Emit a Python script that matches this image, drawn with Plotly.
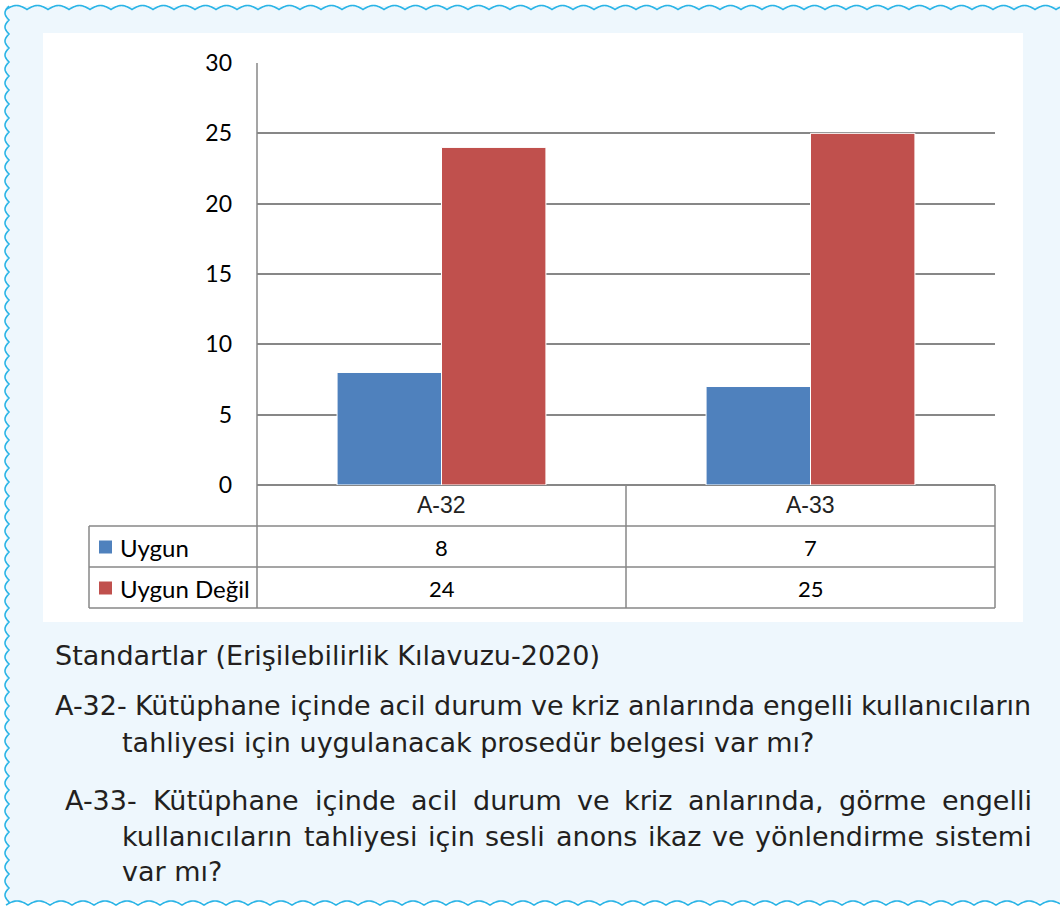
import numpy as np
import plotly.graph_objects as go

# ---- data ----
categories = ["A-32", "A-33"]
series_names = ["Uygun", "Uygun Değil"]
uygun = [8, 7]
uygun_degil = [24, 25]
series_values = [uygun, uygun_degil]
series_colors = ["#4f81bd", "#c0504d"]
y_ticks = [0, 5, 10, 15, 20, 25, 30]

title_line = "Standartlar (Erişilebilirlik Kılavuzu-2020)"
# (text, left x, right x or None for ragged, y)
notes = [
    ("A-32- Kütüphane içinde acil durum ve kriz anlarında engelli kullanıcıların", 53, 1030, 705),
    ("tahliyesi için uygulanacak prosedür belgesi var mı?", 120, None, 742),
    ("A-33- Kütüphane içinde acil durum ve kriz anlarında, görme engelli", 63, 1030, 800),
    ("kullanıcıların tahliyesi için sesli anons ikaz ve yönlendirme sistemi", 120, 1030, 836),
    ("var mı?", 120, None, 871),
]

W, H = 1060, 907
def px(x): return x / W
def py(y): return 1 - y / H

GRID = "#878787"
TXT_FONT = "DejaVu Sans"
TXT_SIZE = 27
TXT_COL = "#231f20"
NUM_FONT = "Lato"

# approximate DejaVu Sans advance widths (em) for justified layout of the caption text
ADV = {' ': .318, 'A': .684, '-': .361, '0': .636, '2': .636, '3': .636, 'K': .656, 'ü': .634, 'u': .634,
       't': .392, 'p': .635, 'h': .634, 'a': .613, 'n': .634, 'e': .615, 'i': .278, 'ı': .278, 'ç': .55,
       'c': .55, 'd': .635, 'l': .278, 'r': .411, 'm': .974, 'v': .592, 'y': .592, 'k': .579, 'z': .525,
       ',': .318, 'g': .635, 'ö': .612, 'o': .612, 's': .521, 'ş': .521, 'b': .635, '?': .531}
def text_w(s):
    return sum(ADV.get(ch, .6) for ch in s) * TXT_SIZE

fig = go.Figure()
for name, vals, col in zip(series_names, series_values, series_colors):
    fig.add_trace(go.Bar(
        x=categories, y=vals, name=name,
        marker=dict(color=col, line=dict(color="white", width=1)),
        showlegend=False,
    ))

shapes = []
shapes.append(dict(type="rect", xref="paper", yref="paper", x0=px(6), x1=px(1060), y0=py(902), y1=py(6),
                   fillcolor="#eef7fd", line=dict(width=0), layer="below"))
shapes.append(dict(type="rect", xref="paper", yref="paper", x0=px(43), x1=px(1023), y0=py(622), y1=py(33),
                   fillcolor="white", line=dict(width=0), layer="below"))

def wave_h(y0, x_start, x_end, period, amp):
    xs = np.arange(x_start, x_end + 1, 1.0)
    ys = y0 - amp * np.abs(np.sin(np.pi * (xs - x_start) / period)) + amp / 2
    return "M " + " L ".join(f"{px(a):.5f},{py(b):.5f}" for a, b in zip(xs, ys))

def wave_v(x0, y_start, y_end, period, amp):
    ys = np.arange(y_start, y_end + 1, 1.0)
    xs = x0 - amp * np.abs(np.sin(np.pi * (ys - y_start) / period)) + amp / 2
    return "M " + " L ".join(f"{px(a):.5f},{py(b):.5f}" for a, b in zip(xs, ys))

WAVE = "#2ab4e6"
for path in [wave_h(7.5, 6, 1060, 21, 4), wave_h(903, 6, 1060, 22, 4), wave_v(7, 6, 903, 14, 4)]:
    shapes.append(dict(type="path", xref="paper", yref="paper", path=path,
                       line=dict(color=WAVE, width=1.6)))

def hline(y, x0, x1):
    shapes.append(dict(type="line", xref="paper", yref="paper", x0=px(x0), x1=px(x1), y0=py(y), y1=py(y),
                       line=dict(color=GRID, width=1.5)))
def vline(x, y0, y1):
    shapes.append(dict(type="line", xref="paper", yref="paper", x0=px(x), x1=px(x), y0=py(y0), y1=py(y1),
                       line=dict(color=GRID, width=1.5)))
hline(526, 89, 995)
hline(567, 89, 995)
hline(608, 89, 995)
vline(89, 526, 608)
vline(257, 63, 608)
vline(626, 485, 608)
vline(995, 485, 608)

annotations = []
row_y = [547, 588]
for name, vals, col, ry in zip(series_names, series_values, series_colors, row_y):
    shapes.append(dict(type="rect", xref="paper", yref="paper", x0=px(99), x1=px(112),
                       y0=py(ry + 6.5), y1=py(ry - 6.5), fillcolor=col, line=dict(width=0)))
    annotations.append(dict(x=px(118), y=py(ry), xref="paper", yref="paper", text=name, showarrow=False,
                            xanchor="left", yanchor="middle", font=dict(family=NUM_FONT, size=24, color="black")))
    for c, v in zip(categories, vals):
        annotations.append(dict(x=c, y=py(ry), xref="x", yref="paper", text=str(v), showarrow=False,
                                xanchor="center", yanchor="middle", font=dict(family=NUM_FONT, size=22, color="black")))
for c in categories:
    annotations.append(dict(x=c, y=py(505), xref="x", yref="paper", text=c, showarrow=False,
                            xanchor="center", yanchor="middle", font=dict(family="Liberation Sans", size=23, color="#222")))

def add_text(t, x, y):
    annotations.append(dict(x=px(x), y=py(y), xref="paper", yref="paper", text=t, showarrow=False,
                            xanchor="left", yanchor="middle",
                            font=dict(family=TXT_FONT, size=TXT_SIZE, color=TXT_COL)))

add_text(title_line, 53, 655)
for t, x0, x1, y in notes:
    if x1 is None:
        add_text(t, x0, y)
        continue
    words = t.split(" ")
    widths = [text_w(w) for w in words]
    gap = (x1 - x0 - sum(widths)) / (len(words) - 1)
    x = x0
    for w, wd in zip(words, widths):
        add_text(w, x, y)
        x += wd + gap

fig.update_layout(
    width=W, height=H,
    margin=dict(l=0, r=0, t=0, b=0, autoexpand=False),
    paper_bgcolor="white", plot_bgcolor="rgba(0,0,0,0)",
    barmode="group", bargap=0.434, bargroupgap=0,
    xaxis=dict(domain=[px(257), px(995)], showticklabels=False, showgrid=False, zeroline=False,
               showline=False, ticks="", automargin=False),
    yaxis=dict(domain=[py(485), py(63)], range=[0, 30], tickvals=y_ticks, showgrid=True,
               gridcolor=GRID, gridwidth=1.5, zeroline=True, zerolinecolor=GRID, zerolinewidth=1.5,
               showline=False, ticks="", ticklabelstandoff=24, automargin=False,
               tickfont=dict(family=NUM_FONT, size=23, color="black")),
    shapes=shapes, annotations=annotations,
)

fig.write_html("out.html", config={"displayModeBar": False}, post_script=(
    "document.body.style.margin='0';"
    "document.body.style.overflow='hidden';"
    "document.documentElement.style.overflow='hidden';"
))
